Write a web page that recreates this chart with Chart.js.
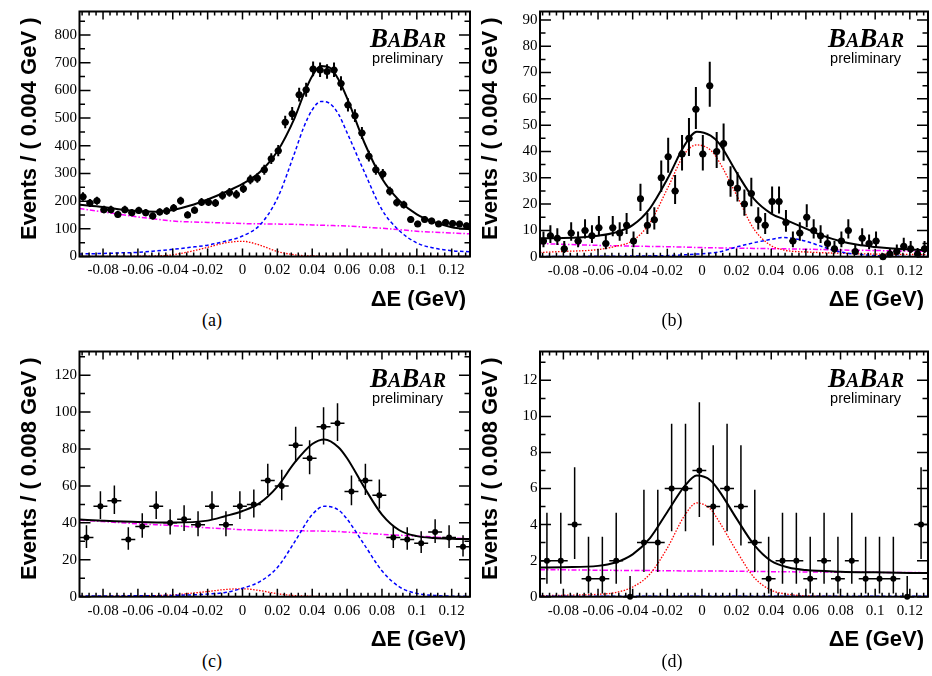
<!DOCTYPE html>
<html>
<head>
<meta charset="utf-8">
<script src="https://cdn.jsdelivr.net/npm/chart.js@4.4.0/dist/chart.umd.min.js"></script>
<style>
html, body { margin: 0; padding: 0; background: #fff; }
#page { position: relative; width: 932px; height: 676px; overflow: hidden; }
canvas { position: absolute; }
.cap { position: absolute; font-family: "Liberation Serif", serif; font-size: 18px; line-height: 18px; color: #000; transform: translateX(-50%); }
</style>
</head>
<body>
<div id="page">
  <canvas id="chartA" width="474" height="310" style="left:0;top:0"></canvas>
  <canvas id="chartB" width="466" height="310" style="left:466px;top:0"></canvas>
  <canvas id="chartC" width="474" height="310" style="left:0;top:340px"></canvas>
  <canvas id="chartD" width="466" height="310" style="left:466px;top:340px"></canvas>
  <div class="cap" style="left:212px;top:311px">(a)</div>
  <div class="cap" style="left:672px;top:311px">(b)</div>
  <div class="cap" style="left:212px;top:652px">(c)</div>
  <div class="cap" style="left:672px;top:652px">(d)</div>
</div>
<script>
// ΔE 축 (모든 패널 공통)
const xMin = -0.0935;
const xMax = 0.1305;
const xTicks = [-0.08, -0.06, -0.04, -0.02, 0, 0.02, 0.04, 0.06, 0.08, 0.1, 0.12];
const xTickLabels = ['-0.08', '-0.06', '-0.04', '-0.02', '0', '0.02', '0.04', '0.06', '0.08', '0.1', '0.12'];

// (a) 0.004 GeV 빈
const countsA = [216, 193, 201, 169, 169, 152, 169, 158, 166, 158, 146, 161, 164, 175, 201, 150, 167, 196, 196, 193,
  220, 231, 224, 245, 278, 283, 313, 353, 382, 485, 516, 584, 602, 677, 674, 668, 674, 625, 547, 508,
  446, 362, 313, 298, 236, 195, 187, 134, 117, 134, 128, 117, 123, 119, 117, 111];
const curveXA = [-0.0935, -0.08, -0.07, -0.06, -0.05, -0.04, -0.03, -0.02, -0.01, 0, 0.01, 0.02, 0.03, 0.035,
  0.04, 0.045, 0.05, 0.055, 0.06, 0.07, 0.08, 0.09, 0.1, 0.11, 0.12, 0.1305];
const totalA = [187, 179, 170, 164, 162, 168, 184, 206, 232, 262, 305, 380, 502, 584, 652, 688, 682, 640, 572, 410, 282, 202, 152, 124, 106, 98];
const signalA = [9, 11, 13, 15, 20, 26, 33, 41, 55, 74, 114, 210, 376, 465, 530, 560, 553, 515, 447, 304, 169, 93, 49, 30, 21, 17];
const peakA = [0.5, 0.5, 0.5, 1, 2, 6, 18, 33, 49, 55, 41, 18, 6, 3, 2, 1, 0.5, 0.5, 0.5, 0.5, 0.5, 0.5, 0.5, 0.5, 0.5, 0.5];
const bkgA = [173, 161, 152, 143, 135, 128, 125, 123, 121, 119, 118, 117, 116, 115, 114, 113, 112, 111, 110, 106, 102, 97, 91, 88, 85, 82];
const yTicksA = [0, 100, 200, 300, 400, 500, 600, 700, 800];

// (b) 0.004 GeV 빈
const countsB = [6, 8, 7, 3, 9, 6, 10, 8, 11, 5, 11, 9, 12, 6, 22, 12, 14, 30, 38, 25,
  39, 45, 56, 39, 65, 40, 43, 28, 26, 20, 24, 14, 12, 21, 21, 13, 6, 9, 15, 10,
  8, 5, 3, 6, 10, 2, 7, 5, 6, 0, 1, 2, 4, 3, 1, 3];
const curveXB = [-0.0935, -0.08, -0.06, -0.05, -0.04, -0.03, -0.02, -0.01, -0.003, 0.005, 0.01, 0.02,
  0.03, 0.04, 0.047, 0.05, 0.06, 0.07, 0.08, 0.09, 0.1, 0.11, 0.12, 0.1305];
const totalB = [7.0, 7.1, 8.0, 9.2, 12, 18.4, 29.5, 42.4, 47.5, 46, 43, 32, 22, 16.4, 14.3, 13.5, 10.7, 7.9, 5.9, 4.5, 3.7, 3.1, 2.7, 2.5];
const signalB = [0.1, 0.1, 0.15, 0.2, 0.25, 0.3, 0.4, 0.7, 1.0, 1.4, 1.8, 3.7, 5.3, 6.6, 7.3, 7.2, 5.9, 3.7, 1.8, 0.9, 0.4, 0.2, 0.1, 0.05];
const peakB = [1.6, 2.0, 2.7, 3.9, 6.1, 12.9, 25.8, 39.1, 42.5, 40.5, 36, 23.4, 10.5, 4.2, 2.6, 2.2, 1.8, 1.5, 1.3, 1.1, 1.0, 0.9, 0.85, 0.8];
const bkgB = [5.0, 4.7, 4.3, 4.15, 4.0, 3.9, 3.8, 3.65, 3.5, 3.4, 3.35, 3.25, 3.15, 3.05, 3.0, 2.95, 2.85, 2.7, 2.55, 2.45, 2.35, 2.25, 2.1, 2.0];
const yTicksB = [0, 10, 20, 30, 40, 50, 60, 70, 80, 90];

// (c) 0.008 GeV 빈
const countsC = [32, 49, 52, 31, 38, 49, 40, 42, 39, 49, 39, 49, 50, 63, 60, 82, 75, 92, 94, 57, 63, 55, 32, 31, 29, 35, 32, 27];
const curveXC = [-0.0935, -0.08, -0.06, -0.04, -0.02, -0.01, 0, 0.01, 0.02, 0.03, 0.04, 0.047, 0.055, 0.06,
  0.07, 0.08, 0.09, 0.1, 0.11, 0.12, 0.1305];
const totalC = [41.8, 41.2, 40.5, 40.2, 41.2, 43.6, 46.4, 50.8, 59.6, 72.7, 82.7, 85.2, 81, 75, 59, 44.5, 36, 32.8, 31.8, 31.4, 31.2];
const signalC = [0.3, 0.4, 0.5, 0.7, 1.4, 2.3, 4.6, 8.2, 15.8, 29.8, 44.5, 49, 47, 42, 28, 14, 5.3, 1.8, 0.7, 0.3, 0.2];
const peakC = [0.1, 0.2, 0.4, 1.0, 2.8, 3.9, 4.3, 3.3, 1.6, 0.6, 0.2, 0.1, 0.05, 0.03, 0, 0, 0, 0, 0, 0, 0];
const bkgC = [41.5, 40.7, 39.5, 38.5, 37.3, 36.8, 36.3, 36.0, 35.8, 35.7, 35.6, 35.5, 35.3, 35.0, 34.4, 33.8, 33.3, 32.8, 32.3, 31.8, 31.3];
const yTicksC = [0, 20, 40, 60, 80, 100, 120];

// (d) 0.008 GeV 빈
const countsD = [2, 2, 4, 1, 1, 2, 0, 3, 3, 6, 6, 7, 5, 6, 5, 3, 1, 2, 2, 1, 2, 1, 2, 1, 1, 1, 0, 4];
const curveXD = [-0.0935, -0.08, -0.06, -0.05, -0.04, -0.03, -0.02, -0.01, -0.003, 0.005, 0.01, 0.02,
  0.03, 0.04, 0.05, 0.06, 0.08, 0.1, 0.12, 0.1305];
const totalD = [1.62, 1.64, 1.71, 1.9, 2.35, 3.25, 4.7, 6.13, 6.72, 6.45, 5.86, 4.33, 2.89, 1.98, 1.62, 1.48, 1.39, 1.35, 1.32, 1.31];
const signalD = [0.02, 0.02, 0.02, 0.02, 0.02, 0.02, 0.02, 0.02, 0.02, 0.02, 0.02, 0.02, 0.02, 0.02, 0.02, 0.02, 0.02, 0.02, 0.02, 0.02];
const peakD = [0.05, 0.08, 0.13, 0.23, 0.54, 1.26, 2.7, 4.5, 5.2, 4.85, 4.15, 2.53, 1.08, 0.36, 0.13, 0.05, 0.01, 0, 0, 0];
const bkgD = [1.5, 1.49, 1.47, 1.46, 1.45, 1.45, 1.44, 1.43, 1.43, 1.42, 1.42, 1.41, 1.40, 1.39, 1.38, 1.37, 1.36, 1.35, 1.34, 1.33];
const yTicksD = [0, 2, 4, 6, 8, 10, 12];

// 빈 중심 (히스토그램 첫 빈 + 빈 폭)
function binCenters(counts, first, width) {
    return counts.map((_, i) => first + width * i);
}

// 포아송 오차 구간 (Gehrels 근사, N=0 은 RooFit 값)
function poissonBand(n) {
    if (n === 0) return [0, 1.148];
    const lo = n * Math.pow(1 - 1 / (9 * n) - 1 / (3 * Math.sqrt(n)), 3);
    const hi = n + 1 + Math.sqrt(n + 0.75);
    return [lo, hi];
}

function drawLogo(ctx, right, base) {
    const parts = [['B', 27], ['A', 20], ['B', 27], ['A', 20], ['R', 20]];
    let w = 0;
    parts.forEach(p => {
        ctx.font = 'italic bold ' + p[1] + 'px "Liberation Serif"';
        w += ctx.measureText(p[0]).width;
    });
    let px = right - w;
    ctx.textAlign = 'left';
    ctx.textBaseline = 'alphabetic';
    parts.forEach(p => {
        ctx.font = 'italic bold ' + p[1] + 'px "Liberation Serif"';
        ctx.fillText(p[0], px, base);
        px += ctx.measureText(p[0]).width;
    });
}

// 오차 막대, 프레임, 안쪽 눈금, 제목
const hepPlugin = {
    id: 'hep',
    afterDatasetsDraw(chart, args, o) {
        const { ctx, scales: { x, y } } = chart;
        ctx.save();
        ctx.strokeStyle = '#000';
        ctx.lineWidth = o.barWidth;
        ctx.beginPath();
        o.centers.forEach((c, i) => {
            const n = o.counts[i];
            const band = poissonBand(n);
            const px = x.getPixelForValue(c);
            const py = y.getPixelForValue(n);
            ctx.moveTo(px, y.getPixelForValue(band[0]));
            ctx.lineTo(px, y.getPixelForValue(band[1]));
            ctx.moveTo(x.getPixelForValue(c - o.half), py);
            ctx.lineTo(x.getPixelForValue(c + o.half), py);
        });
        ctx.stroke();
        ctx.restore();
    },
    afterDraw(chart, args, o) {
        const { ctx, chartArea: a, scales: { x, y } } = chart;
        ctx.save();
        ctx.strokeStyle = '#000';
        ctx.fillStyle = '#000';

        // 눈금
        ctx.lineWidth = 1.5;
        ctx.beginPath();
        for (let k = Math.ceil(xMin / 0.004); k <= Math.floor(xMax / 0.004); k++) {
            const px = x.getPixelForValue(k * 0.004);
            const len = (k % 5 === 0) ? 8 : 4;
            ctx.moveTo(px, a.bottom); ctx.lineTo(px, a.bottom - len);
            ctx.moveTo(px, a.top); ctx.lineTo(px, a.top + len);
        }
        for (let k = 0; k * o.yMinor <= y.max; k++) {
            const py = y.getPixelForValue(k * o.yMinor);
            const len = (k % 2 === 0) ? 11 : 5.5;
            ctx.moveTo(a.left, py); ctx.lineTo(a.left + len, py);
            ctx.moveTo(a.right, py); ctx.lineTo(a.right - len, py);
        }
        ctx.stroke();

        ctx.lineWidth = 2;
        ctx.strokeRect(a.left, a.top, a.right - a.left, a.bottom - a.top);

        // 축 제목
        ctx.font = 'bold 22px "Liberation Sans"';
        ctx.textAlign = 'right';
        ctx.textBaseline = 'alphabetic';
        ctx.fillText('\u0394E (GeV)', a.right - 4, a.bottom + 49);

        ctx.save();
        ctx.translate(a.left - 43.5, a.top + 6);
        ctx.rotate(-Math.PI / 2);
        ctx.fillText(o.yTitle, 0, 0);
        ctx.restore();

        // BaBar 로고
        drawLogo(ctx, a.right - 24, a.top + 35);
        ctx.font = '14.5px "Liberation Sans"';
        ctx.textAlign = 'right';
        ctx.fillText('preliminary', a.right - 27, a.top + 51);
        ctx.restore();
    }
};

function makePanel(id, p) {
    const centers = binCenters(p.counts, p.first, p.width);
    const curve = (vals, color, width, dash) => ({
        data: p.curveX.map((cx, i) => ({ x: cx, y: vals[i] })),
        borderColor: color,
        borderWidth: width,
        borderDash: dash,
        pointRadius: 0,
        fill: false,
        cubicInterpolationMode: 'monotone'
    });
    new Chart(document.getElementById(id), {
        type: 'line',
        data: {
            datasets: [
                {
                    data: centers.map((c, i) => ({ x: c, y: p.counts[i] })),
                    showLine: false,
                    pointRadius: p.r,
                    pointBackgroundColor: '#000',
                    pointBorderWidth: 0,
                    clip: false
                },
                curve(p.total, '#000000', 2, []),
                curve(p.signal, '#0000ff', 1.5, [3.5, 2.5]),
                curve(p.peak, '#ff0000', 1.3, [1.5, 1.5]),
                curve(p.bkg, '#ff00ff', 1.5, [5, 2, 1.5, 2])
            ]
        },
        options: {
            responsive: false,
            animation: false,
            devicePixelRatio: 1,
            layout: { padding: { top: p.padTop, right: p.padRight, left: 0, bottom: 0 } },
            plugins: {
                legend: { display: false },
                tooltip: { enabled: false },
                hep: {
                    centers: centers,
                    counts: p.counts,
                    half: p.width / 2,
                    barWidth: p.barWidth,
                    yMinor: p.yMinor,
                    yTitle: p.yTitle
                }
            },
            scales: {
                x: {
                    type: 'linear',
                    min: xMin,
                    max: xMax,
                    grid: { display: false, drawTicks: false },
                    border: { display: false },
                    afterBuildTicks: s => { s.ticks = xTicks.map(v => ({ value: v })); },
                    afterFit: s => { s.height = p.xAxisH; },
                    ticks: {
                        autoSkip: false,
                        maxRotation: 0,
                        minRotation: 0,
                        padding: 5,
                        color: '#000',
                        font: { family: 'Liberation Serif', size: 15 },
                        callback: (v, i) => xTickLabels[i]
                    }
                },
                y: {
                    type: 'linear',
                    min: 0,
                    max: p.yMax,
                    grid: { display: false, drawTicks: false },
                    border: { display: false },
                    afterBuildTicks: s => { s.ticks = p.yTicks.map(v => ({ value: v })); },
                    afterFit: s => { s.width = p.yAxisW; },
                    ticks: {
                        padding: 2.5,
                        color: '#000',
                        font: { family: 'Liberation Serif', size: 15 },
                        callback: (v, i) => String(p.yTicks[i])
                    }
                }
            }
        },
        plugins: [hepPlugin]
    });
}

document.addEventListener('DOMContentLoaded', function() {
    makePanel('chartA', {
        counts: countsA, first: -0.0915, width: 0.004, r: 3.5, barWidth: 2,
        curveX: curveXA, total: totalA, signal: signalA, peak: peakA, bkg: bkgA,
        yTicks: yTicksA, yMax: 885, yMinor: 50, yTitle: 'Events / ( 0.004 GeV )',
        padTop: 4, padRight: 3.5, yAxisW: 79.5, xAxisH: 53.5
    });
    makePanel('chartB', {
        counts: countsB, first: -0.0915, width: 0.004, r: 3.5, barWidth: 2,
        curveX: curveXB, total: totalB, signal: signalB, peak: peakB, bkg: bkgB,
        yTicks: yTicksB, yMax: 93.2, yMinor: 5, yTitle: 'Events / ( 0.004 GeV )',
        padTop: 4, padRight: 1, yAxisW: 74, xAxisH: 53.3
    });
    makePanel('chartC', {
        counts: countsC, first: -0.0895, width: 0.008, r: 3, barWidth: 1.5,
        curveX: curveXC, total: totalC, signal: signalC, peak: peakC, bkg: bkgC,
        yTicks: yTicksC, yMax: 132.8, yMinor: 10, yTitle: 'Events / ( 0.008 GeV )',
        padTop: 5, padRight: 3.5, yAxisW: 79.5, xAxisH: 53.3
    });
    makePanel('chartD', {
        counts: countsD, first: -0.0895, width: 0.008, r: 3, barWidth: 1.5,
        curveX: curveXD, total: totalD, signal: signalD, peak: peakD, bkg: bkgD,
        yTicks: yTicksD, yMax: 13.6, yMinor: 1, yTitle: 'Events / ( 0.008 GeV )',
        padTop: 5, padRight: 1, yAxisW: 74, xAxisH: 53.3
    });
});
</script>
</body>
</html>
